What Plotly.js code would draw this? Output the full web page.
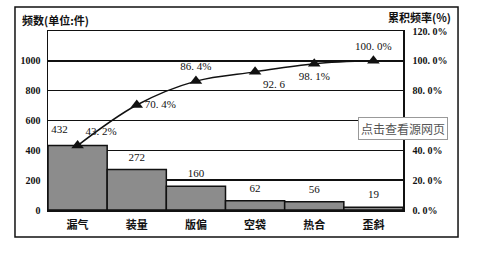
<!DOCTYPE html>
<html><head><meta charset="utf-8">
<script src="https://cdn.plot.ly/plotly-3.0.1.min.js"></script>
<style>html,body{margin:0;padding:0;background:#fff}#c{width:503px;height:258px}</style>
</head><body><div id="c"></div>
<script>
const categories = ["漏气","装量","版偏","空袋","热合","歪斜"];
const counts = [432,272,160,62,56,19];
const countLabels = ["432","272","160","62","56","19"];
const cumPct = [43.2,70.4,86.4,92.6,98.1,100.0];
const cumLabels = ["43. 2%","70. 4%","86. 4%","92. 6","98. 1%","100. 0%"];
const leftTicks = [0,200,400,600,800,1000];
const rightTicks = [0,20,40,80,100,120];
const rightTickText = ["0. 0%","20. 0%","40. 0%","80. 0%","100. 0%","120. 0%"];
const cumLabelPos = ["top right","middle right","top center","bottom right","bottom center","top center"];
const countLabelPos = ["top left","top center","top center","top center","top center","top center"];

const F = "Liberation Serif, 'Noto Sans CJK SC', serif";
const CJK = "'Noto Sans CJK SC', sans-serif";
const traces = [
  {type:'bar', x:categories, y:counts,
   marker:{color:'#8c8c8c', line:{color:'#111', width:1.5}}, hoverinfo:'none'},
  {type:'scatter', mode:'markers+text', x:categories, y:counts, text:countLabels, textposition:countLabelPos,
   marker:{size:[14,8,8,8,8,8], opacity:0}, textfont:{family:F,size:11,color:'#111'}, cliponaxis:false, hoverinfo:'none'},
  {type:'scatter', mode:'lines+markers+text', x:categories, y:cumPct, yaxis:'y2',
   line:{color:'#111', width:1.5, shape:'spline'},
   marker:{symbol:'triangle-up', size:11, color:'#111'},
   text:cumLabels, textposition:cumLabelPos, textfont:{family:F,size:11,color:'#111'}, cliponaxis:false}
];
const layout = {
  width:503, height:258, margin:{l:48, r:100, t:31, b:48},
  paper_bgcolor:'#fff', plot_bgcolor:'#fff', showlegend:false, bargap:0,
  font:{family:F, color:'#111'},
  xaxis:{type:'category', showgrid:false, ticks:'', showline:true, linecolor:'#111', linewidth:1.5, mirror:true,
         tickfont:{family:CJK, size:11, color:'#111', weight:'bold'}, ticklabelstandoff:4},
  yaxis:{range:[0,1200], tickvals:leftTicks, showgrid:true, gridcolor:'#111', gridwidth:1.5,
         showline:true, linecolor:'#111', linewidth:1.5, zeroline:false, ticks:'',
         tickfont:{family:F, size:10, color:'#111', weight:'bold'}, ticklabelstandoff:4},
  yaxis2:{overlaying:'y', side:'right', range:[0,120], tickvals:rightTicks, ticktext:rightTickText,
          showgrid:false, zeroline:false, ticks:'', showline:true, linecolor:'#111', linewidth:1.5,
          tickfont:{family:F, size:10, color:'#111', weight:'bold'}, ticklabelstandoff:6},
  shapes:[{type:'rect', xref:'paper', yref:'paper', x0:-0.093, x1:1.155, y0:-0.151, y1:1.134,
           line:{color:'#111', width:1.5}, layer:'below'}],
  annotations:[
    {text:'频数(单位:件)', xref:'paper', yref:'paper', x:-0.079, y:1.061, xanchor:'left', yanchor:'middle',
     showarrow:false, font:{family:CJK, size:11, color:'#111', weight:'bold'}},
    {text:'累积频率(%)', xref:'paper', yref:'paper', x:1.141, y:1.078, xanchor:'right', yanchor:'middle',
     showarrow:false, font:{family:CJK, size:11, color:'#111', weight:'bold'}},
    {text:'点击查看源网页', xref:'paper', yref:'paper', x:1.0014, y:0.458, xanchor:'center', yanchor:'middle',
     showarrow:false, bgcolor:'#fff', bordercolor:'#999', borderwidth:1, borderpad:2,
     font:{family:CJK, size:12, color:'#555'}}
  ]
};
Plotly.newPlot('c', traces, layout, {staticPlot:true, displayModeBar:false});
</script></body></html>
